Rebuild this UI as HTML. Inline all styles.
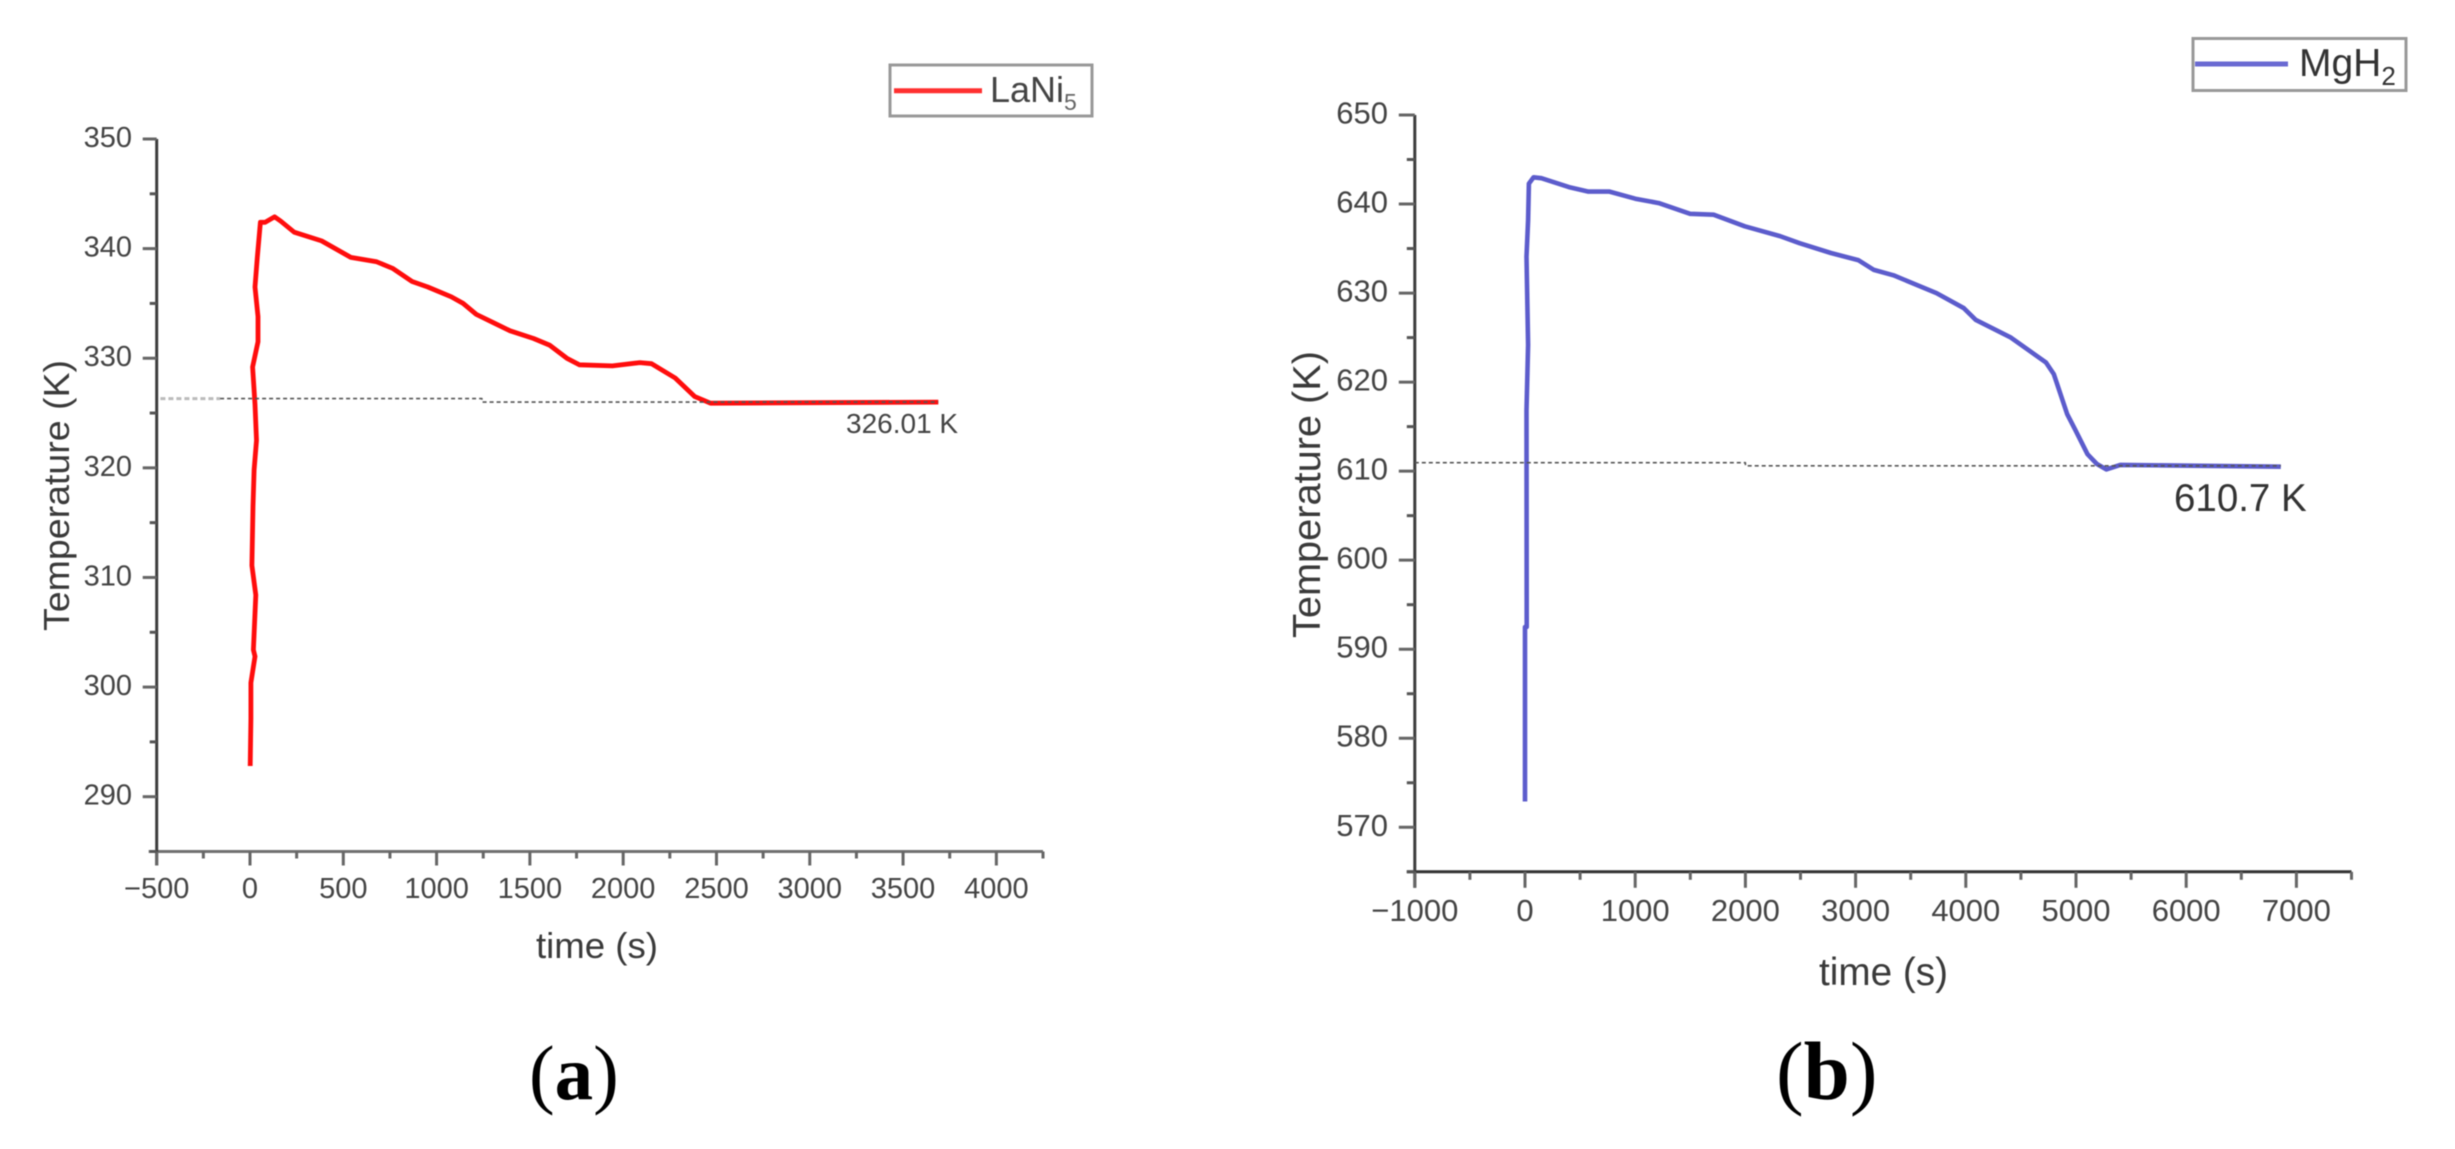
<!DOCTYPE html>
<html lang="en">
<head>
<meta charset="utf-8">
<title>Temperature versus time for LaNi5 and MgH2</title>
<style>
html,body{margin:0;padding:0;background:#fff;}
body{width:2455px;height:1149px;overflow:hidden;}
svg{display:block;filter:blur(0.6px);font-family:"Liberation Sans",Arial,sans-serif;}
.tick-text{fill:#444;}
</style>
</head>
<body>
<svg id="figure" xmlns="http://www.w3.org/2000/svg" width="2455" height="1149" viewBox="0 0 2455 1149">
  <rect width="2455" height="1149" fill="#fff"/>

  <g id="panel-a">
    <text transform="translate(69,631) rotate(-90)" font-size="36" fill="#3a3a3a" textLength="271" lengthAdjust="spacingAndGlyphs">Temperature (K)</text>
    <text x="536" y="958" font-size="36" fill="#3a3a3a" textLength="122" lengthAdjust="spacingAndGlyphs">time (s)</text>
    <text x="846" y="433" font-size="28" fill="#444">326.01 K</text>
    <g>
      <rect x="890" y="65" width="202" height="51" fill="#fff" stroke="#999" stroke-width="3"/>
      <line x1="894" y1="90.7" x2="982" y2="90.7" stroke="#ff3030" stroke-width="5"/>
      <text x="990" y="102" font-size="36" fill="#444">LaNi<tspan font-size="23" dy="8" fill="#666">5</tspan></text>
    </g>
    <text x="529" y="1099" font-size="77" fill="#000" style="font-family:'Liberation Serif',serif">(<tspan font-weight="bold">a</tspan>)</text>
  </g>

  <g id="panel-b">
    <text transform="translate(1320,638) rotate(-90)" font-size="39" fill="#3a3a3a" textLength="287" lengthAdjust="spacingAndGlyphs">Temperature (K)</text>
    <text x="1819" y="985" font-size="39" fill="#3a3a3a" textLength="129" lengthAdjust="spacingAndGlyphs">time (s)</text>
    <text x="2174" y="511" font-size="38.5" fill="#333">610.7 K</text>
    <g>
      <rect x="2193" y="38.5" width="213" height="52" fill="#fff" stroke="#999" stroke-width="3"/>
      <line x1="2195" y1="64" x2="2288" y2="64" stroke="#6a6ad2" stroke-width="5"/>
      <text x="2299" y="76" font-size="39" fill="#333">MgH<tspan font-size="26" dy="9">2</tspan></text>
    </g>
    <text x="1776" y="1099" font-size="83" fill="#000" style="font-family:'Liberation Serif',serif">(<tspan font-weight="bold">b</tspan>)</text>
  </g>
</svg>

<script>
// ---------- Panel (a) LaNi5 data ----------
const timeA = [1,5,5,27,18,31,10,16,22,35,27,14,43,43,27,39,56,81,132,165,237,384,540,679,764,869,953,1079,1142,1213,1310,1394,1520,1605,1698,1765,1942,2089,2152,2279,2384,2468,3689];
const tempA = [292.8,297.1,300.4,302.8,303.4,308.4,311.1,316.5,319.8,322.5,325.8,329.2,331.5,333.8,336.5,339.2,342.4,342.4,342.9,342.5,341.5,340.7,339.2,338.8,338.2,337.0,336.5,335.6,335.0,334.0,333.2,332.5,331.8,331.2,330.0,329.4,329.3,329.6,329.5,328.2,326.5,325.9,326.0];
const xMajorA = [-500,0,500,1000,1500,2000,2500,3000,3500,4000];
const xMajorLabelsA = ["\u2212500","0","500","1000","1500","2000","2500","3000","3500","4000"];
const xMinorA = [-250,250,750,1250,1750,2250,2750,3250,3750,4250];
const yMajorA = [290,300,310,320,330,340,350];
const yMajorLabelsA = ["290","300","310","320","330","340","350"];
const yMinorA = [285,295,305,315,325,335,345];
const refFaintTimeA = [-480,-160];
const refFaintTempA = [326.32,326.32];
const refTimeA = [-160,1243,1243,3689];
const refTempA = [326.32,326.32,326.0,326.0];

// ---------- Panel (b) MgH2 data ----------
const timeB = [0,0,15,14,28,14,28,35,78,149,398,575,767,1001,1214,1498,1711,1995,2314,2492,2776,3024,3166,3344,3734,3983,4089,4409,4728,4799,4920,4991,5104,5190,5275,5402,6858];
const tempB = [572.9,592.5,592.5,616.8,624.2,634.1,638.2,642.3,643.0,642.9,641.9,641.4,641.4,640.6,640.1,638.9,638.8,637.5,636.4,635.6,634.5,633.7,632.6,632.0,630.0,628.3,627.0,625.0,622.2,620.9,616.4,614.7,611.9,610.8,610.2,610.7,610.5];
const xMajorB = [-1000,0,1000,2000,3000,4000,5000,6000,7000];
const xMajorLabelsB = ["\u22121000","0","1000","2000","3000","4000","5000","6000","7000"];
const xMinorB = [-500,500,1500,2500,3500,4500,5500,6500,7500];
const yMajorB = [570,580,590,600,610,620,630,640,650];
const yMajorLabelsB = ["570","580","590","600","610","620","630","640","650"];
const yMinorB = [565,575,585,595,605,615,625,635,645];
const refTimeB = [-1000,2000,2000,6858];
const refTempB = [610.95,610.95,610.6,610.6];

const NS = 'http://www.w3.org/2000/svg';

function linearScale(d0, d1, r0, r1) {
  return function (v) { return r0 + (v - d0) * (r1 - r0) / (d1 - d0); };
}

// Axis functions
const xA = linearScale(-500, 4250, 156.7, 1043);
const yA = linearScale(285, 350, 851.5, 139);
const xB = linearScale(-1000, 7500, 1414.8, 2351.5);
const yB = linearScale(565, 650, 871.8, 115);

function makeLine(x1, y1, x2, y2, color, width) {
  const el = document.createElementNS(NS, 'line');
  el.setAttribute('x1', x1);
  el.setAttribute('y1', y1);
  el.setAttribute('x2', x2);
  el.setAttribute('y2', y2);
  el.setAttribute('stroke', color);
  el.setAttribute('stroke-width', width);
  return el;
}

function makeLabel(x, y, str, size, anchor) {
  const el = document.createElementNS(NS, 'text');
  el.setAttribute('x', x);
  el.setAttribute('y', y);
  el.setAttribute('font-size', size);
  el.setAttribute('text-anchor', anchor);
  el.setAttribute('class', 'tick-text');
  el.textContent = str;
  return el;
}

function drawAxes(parent, cfg) {
  const xAxis = makeLine(cfg.x(cfg.xDomain[0]) - 8, cfg.y(cfg.yDomain[0]), cfg.x(cfg.xDomain[1]), cfg.y(cfg.yDomain[0]), cfg.axisColor, 3);
  
  
  parent.appendChild(xAxis);

  const yAxis = makeLine(cfg.x(cfg.xDomain[0]), cfg.y(cfg.yDomain[0]) + cfg.majorLen, cfg.x(cfg.xDomain[0]), cfg.y(cfg.yDomain[1]), '#3c3c3c', 3);
  
  
  parent.appendChild(yAxis);

  const baseY = cfg.y(cfg.yDomain[0]);
  const baseX = cfg.x(cfg.xDomain[0]);

  cfg.xMajor.forEach(function (v, i) {
    const tick = makeLine(cfg.x(v), baseY, cfg.x(v), baseY + cfg.majorLen, '#666', 3);
    
    
    parent.appendChild(tick);
    const label = makeLabel(cfg.x(v), cfg.xLabelY, cfg.xLabels[i], cfg.fontSize, 'middle');
    
    
    parent.appendChild(label);
  });
  cfg.xMinor.forEach(function (v) {
    const tick = makeLine(cfg.x(v), baseY, cfg.x(v), baseY + cfg.minorLen, '#666', 3);
    
    
    parent.appendChild(tick);
  });
  cfg.yMajor.forEach(function (v, i) {
    const tick = makeLine(baseX - cfg.majorLen, cfg.y(v), baseX, cfg.y(v), '#666', 3);
    
    
    parent.appendChild(tick);
    const label = makeLabel(cfg.yLabelX, cfg.y(v) + cfg.yLabelDy, cfg.yLabels[i], cfg.fontSize, 'end');
    
    
    parent.appendChild(label);
  });
  cfg.yMinor.forEach(function (v) {
    const tick = makeLine(baseX - cfg.minorLen, cfg.y(v), baseX, cfg.y(v), '#555', 3);
    
    
    parent.appendChild(tick);
  });
}

function pathFrom(ts, vs, x, y) {
  return ts.map(function (t, i) {
    return (i ? 'L' : 'M') + x(t).toFixed(1) + ' ' + y(vs[i]).toFixed(1);
  }).join(' ');
}

function makePath(d, color, width) {
  const el = document.createElementNS(NS, 'path');
  el.setAttribute('d', d);
  el.setAttribute('fill', 'none');
  el.setAttribute('stroke', color);
  el.setAttribute('stroke-width', width);
  el.setAttribute('stroke-linejoin', 'round');
  return el;
}

const panelA = document.getElementById('panel-a');
const panelB = document.getElementById('panel-b');

drawAxes(panelA, {
  x: xA, y: yA, xDomain: [-500, 4250], yDomain: [285, 350],
  xMajor: xMajorA, xLabels: xMajorLabelsA, xMinor: xMinorA,
  yMajor: yMajorA, yLabels: yMajorLabelsA, yMinor: yMinorA,
  majorLen: 14, minorLen: 7, fontSize: 29, xLabelY: 898, yLabelX: 132, yLabelDy: 8,
  axisColor: '#707070'
});
drawAxes(panelB, {
  x: xB, y: yB, xDomain: [-1000, 7500], yDomain: [565, 650],
  xMajor: xMajorB, xLabels: xMajorLabelsB, xMinor: xMinorB,
  yMajor: yMajorB, yLabels: yMajorLabelsB, yMinor: yMinorB,
  majorLen: 16, minorLen: 8, fontSize: 31, xLabelY: 921, yLabelX: 1388, yLabelDy: 8.5,
  axisColor: '#333333'
});

const seriesA = makePath(pathFrom(timeA, tempA, xA, yA), '#ff0d0d', 4.8);


panelA.appendChild(seriesA);

const refFaintA = makePath(pathFrom(refFaintTimeA, refFaintTempA, xA, yA), '#bbb', 3);
refFaintA.setAttribute('stroke-dasharray', '5 3');


panelA.appendChild(refFaintA);

const refA = makePath(pathFrom(refTimeA, refTempA, xA, yA), '#555', 1.6);
refA.setAttribute('stroke-dasharray', '4 3');


panelA.appendChild(refA);

const seriesB = makePath(pathFrom(timeB, tempB, xB, yB), '#5c5ccc', 4.6);


panelB.appendChild(seriesB);

const refB = makePath(pathFrom(refTimeB, refTempB, xB, yB), '#555', 1.6);
refB.setAttribute('stroke-dasharray', '4 3');


panelB.appendChild(refB);
</script>
</body>
</html>
